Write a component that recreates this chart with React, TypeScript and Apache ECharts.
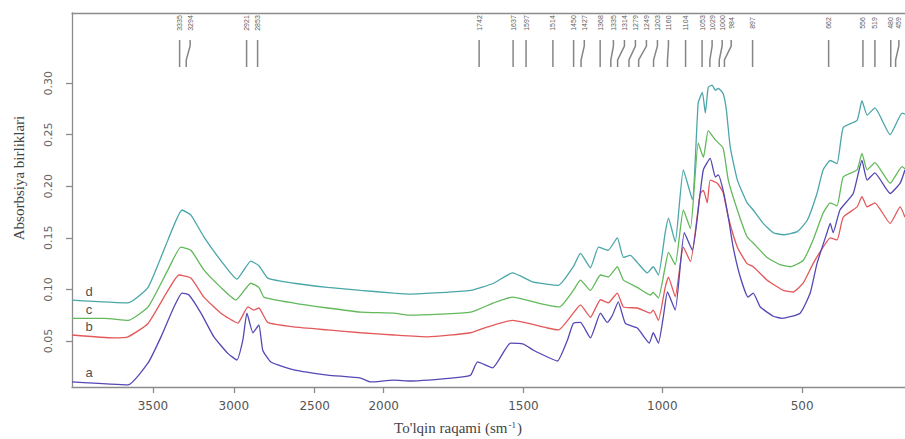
import React, { useEffect, useRef } from "react";
import * as echarts from "echarts";

// ---------- data (wavenumber cm^-1, absorbance) ----------
const curveA: [number, number][] = [
  [4000, 0.0103], [3654, 0.0074], [3530, 0.0287], [3450, 0.054], [3370, 0.083], [3320, 0.0965], [3277, 0.0946],
  [3203, 0.077], [3123, 0.054], [3037, 0.038], [2981, 0.0316], [2944, 0.051], [2919, 0.077], [2882, 0.058],
  [2845, 0.0655], [2821, 0.041], [2771, 0.0297], [2629, 0.022], [2420, 0.017], [2216, 0.014], [2154, 0.0103],
  [2012, 0.012], [1954, 0.0112], [1799, 0.015], [1768, 0.017], [1747, 0.0297], [1700, 0.024], [1645, 0.048],
  [1605, 0.047], [1574, 0.041], [1531, 0.0345], [1500, 0.0306], [1469, 0.051], [1451, 0.067], [1429, 0.068],
  [1398, 0.053], [1367, 0.077], [1346, 0.068], [1330, 0.075], [1312, 0.088], [1290, 0.067], [1253, 0.0626],
  [1216, 0.048], [1204, 0.058], [1188, 0.048], [1173, 0.073], [1160, 0.0975], [1136, 0.08], [1108, 0.155],
  [1083, 0.138], [1059, 0.193], [1049, 0.216], [1028, 0.227], [1012, 0.209], [1003, 0.211], [988, 0.196],
  [972, 0.17], [957, 0.141], [935, 0.112], [911, 0.0926], [895, 0.0965], [873, 0.083], [833, 0.074],
  [806, 0.072], [750, 0.077], [719, 0.0965], [698, 0.125], [667, 0.155], [657, 0.164], [648, 0.155],
  [627, 0.177], [586, 0.193], [559, 0.225], [543, 0.206], [519, 0.213], [472, 0.193], [441, 0.203], [426, 0.216],
];
const curveB: [number, number][] = [
  [4000, 0.0558], [3740, 0.053], [3654, 0.054], [3530, 0.067], [3407, 0.099], [3339, 0.114], [3265, 0.111],
  [3185, 0.0926], [3080, 0.077], [2975, 0.0674], [2913, 0.083], [2876, 0.08], [2845, 0.082], [2790, 0.068],
  [2629, 0.0636], [2420, 0.0607], [2216, 0.058], [2012, 0.0558], [1901, 0.054], [1768, 0.058], [1716, 0.0636],
  [1639, 0.07], [1593, 0.0674], [1531, 0.0626], [1497, 0.0607], [1451, 0.077], [1429, 0.085], [1398, 0.073],
  [1367, 0.09], [1343, 0.087], [1315, 0.0965], [1296, 0.083], [1253, 0.082], [1213, 0.077], [1204, 0.08],
  [1188, 0.07], [1167, 0.102], [1157, 0.112], [1136, 0.093], [1111, 0.141], [1089, 0.127], [1059, 0.193],
  [1049, 0.196], [1037, 0.184], [1028, 0.206], [1006, 0.203], [988, 0.194], [972, 0.17], [944, 0.141],
  [914, 0.125], [895, 0.122], [852, 0.109], [802, 0.099], [772, 0.0975], [741, 0.106], [710, 0.125],
  [679, 0.141], [657, 0.15], [636, 0.148], [617, 0.17], [574, 0.18], [559, 0.19], [543, 0.18], [519, 0.184],
  [472, 0.164], [441, 0.18], [426, 0.17],
];
const curveC: [number, number][] = [
  [4000, 0.072], [3802, 0.072], [3654, 0.07], [3530, 0.083], [3407, 0.119], [3327, 0.141], [3265, 0.138],
  [3185, 0.119], [3080, 0.102], [2987, 0.0897], [2895, 0.106], [2845, 0.102], [2814, 0.0926], [2629, 0.0868],
  [2420, 0.082], [2216, 0.078], [2012, 0.077], [1954, 0.075], [1768, 0.078], [1697, 0.087], [1639, 0.0926],
  [1562, 0.087], [1494, 0.083], [1451, 0.099], [1429, 0.109], [1398, 0.099], [1367, 0.114], [1343, 0.112],
  [1315, 0.122], [1296, 0.109], [1253, 0.102], [1213, 0.0946], [1204, 0.097], [1188, 0.0917], [1167, 0.122],
  [1157, 0.136], [1136, 0.124], [1111, 0.177], [1089, 0.159], [1065, 0.242], [1049, 0.228], [1034, 0.254],
  [1012, 0.245], [988, 0.237], [972, 0.206], [944, 0.177], [914, 0.151], [895, 0.145], [852, 0.131],
  [812, 0.124], [781, 0.122], [741, 0.128], [710, 0.148], [679, 0.174], [657, 0.184], [636, 0.181],
  [617, 0.209], [574, 0.216], [559, 0.232], [543, 0.216], [519, 0.223], [472, 0.203], [435, 0.219], [426, 0.217],
];
const curveD: [number, number][] = [
  [4000, 0.0897], [3654, 0.087], [3530, 0.102], [3407, 0.148], [3320, 0.177], [3265, 0.172], [3185, 0.151],
  [3080, 0.128], [2981, 0.11], [2895, 0.1275], [2845, 0.123], [2790, 0.111], [2629, 0.106], [2420, 0.102],
  [2216, 0.099], [2012, 0.0965], [1954, 0.0955], [1768, 0.099], [1697, 0.106], [1639, 0.116], [1574, 0.107],
  [1497, 0.104], [1451, 0.122], [1429, 0.135], [1398, 0.121], [1373, 0.141], [1343, 0.138], [1315, 0.15],
  [1296, 0.131], [1275, 0.133], [1253, 0.126], [1222, 0.116], [1204, 0.122], [1188, 0.114], [1167, 0.155],
  [1157, 0.169], [1136, 0.146], [1111, 0.216], [1083, 0.187], [1065, 0.281], [1052, 0.291], [1043, 0.271],
  [1034, 0.296], [1022, 0.298], [1012, 0.293], [1003, 0.295], [988, 0.29], [978, 0.274], [966, 0.238],
  [944, 0.206], [914, 0.184], [895, 0.177], [864, 0.164], [833, 0.155], [802, 0.153], [759, 0.156],
  [728, 0.167], [698, 0.193], [679, 0.216], [657, 0.225], [636, 0.222], [617, 0.257], [574, 0.264],
  [559, 0.283], [543, 0.269], [519, 0.276], [472, 0.25], [435, 0.271], [426, 0.27],
];

const curveNames = ["a", "b", "c", "d"];
const curveColors = ["#5448b4", "#e4585a", "#62b85a", "#4aa6a8"];

// peak annotations: printed label, peak position, position where the label is printed
const peakLabels = ["3335", "3294", "2921", "2853", "1742", "1637", "1597", "1514", "1450", "1427", "1368", "1335",
  "1314", "1279", "1249", "1203", "1160", "1104", "1053", "1029", "1000", "984", "897", "662", "556", "519", "480", "459"];
const peakAt = [3335, 3294, 2921, 2853, 1742, 1637, 1597, 1514, 1450, 1427, 1368, 1335,
  1314, 1279, 1249, 1203, 1160, 1104, 1053, 1029, 1000, 984, 897, 662, 556, 519, 470, 455];
const peakLabelAt = [3335, 3270, 2921, 2853, 1742, 1637, 1597, 1514, 1450, 1417, 1368, 1327,
  1293, 1259, 1225, 1191, 1157, 1104, 1053, 1022, 991, 963, 897, 662, 556, 519, 470, 445];

// printed x tick labels and the wavenumber where each printed tick sits
const xTickLabels = ["3500", "3000", "2500", "2000", "1500", "1000", "500"];
const xTickAt = [3500, 3000, 2500, 2074, 1605, 1176, 744];
const yTicks = [0.05, 0.1, 0.15, 0.2, 0.25, 0.3];

const xMinW = 426;
const xMaxW = 4000;
const yMin = 0.0054;
const yMax = 0.368;

// x scale: region above 2000 cm^-1 drawn at half scale
const compress = (w: number) => (w <= 2000 ? w : 2000 + (w - 2000) / 2);

export default function App() {
  const ref = useRef<HTMLDivElement>(null);
  useEffect(() => {
    if (!ref.current) return;
    const chart = echarts.init(ref.current, null, { renderer: "svg" });
    const curves = [curveA, curveB, curveC, curveD];
    const tickU = xTickAt.map(compress);
    const labelFor = (v: number) => {
      const i = tickU.findIndex((t) => Math.abs(t - v) < 0.5);
      return i >= 0 ? xTickLabels[i] : "";
    };
    const order = [3, 2, 1, 0];
    const lineSeries = order.map((k) => {
      const data = curves[k].map(([w, v]) => [compress(w), v]);
      return {
        type: "line",
        name: curveNames[k],
        data,
        showSymbol: false,
        symbol: "none",
        smooth: 0.15,
        lineStyle: { color: curveColors[k], width: 1.3 },
        itemStyle: { color: curveColors[k] },
        z: 3,
        markPoint: {
          symbol: "circle",
          symbolSize: 0,
          silent: true,
          data: [{ coord: data[0] }],
          label: {
            show: true,
            formatter: curveNames[k],
            position: "inside",
            offset: [17, -9],
            color: "#505050",
            fontSize: 13,
            fontFamily: "Liberation Sans",
          },
        },
      };
    });

    const annotation = {
      type: "custom",
      clip: false,
      silent: true,
      z: 2,
      encode: { x: 0, y: 2 },
      data: peakAt.map((p, i) => [compress(p), compress(peakLabelAt[i]), 0.2]),
      renderItem: (params: any, api: any) => {
        const i = params.dataIndex;
        const xp = api.coord([api.value(0), 0.2])[0];
        const xl = api.coord([api.value(1), 0.2])[0];
        const top = params.coordSys.y;
        return {
          type: "group",
          children: [
            {
              type: "polyline",
              shape: { points: [[xl, top + 27], [xl, top + 33], [xp, top + 47], [xp, top + 54]] },
              style: { stroke: "#858585", lineWidth: 1.5, fill: "none" },
            },
            {
              type: "text",
              x: xl,
              y: top + 10,
              rotation: Math.PI / 2,
              style: {
                text: peakLabels[i],
                fontSize: 7,
                fontFamily: "Liberation Sans",
                fill: "#5e5e5e",
                align: "center",
                verticalAlign: "middle",
              },
            },
          ],
        };
      },
    };

    chart.setOption({
      animation: false,
      backgroundColor: "#ffffff",
      grid: { left: 72, right: 0, top: 13, bottom: 52 },
      xAxis: [
        {
          type: "value",
          inverse: true,
          min: compress(xMinW),
          max: compress(xMaxW),
          axisLine: { show: true, onZero: false, lineStyle: { color: "#8c8c8c", width: 1.3 } },
          axisTick: { show: true, customValues: tickU, length: 6, lineStyle: { color: "#8c8c8c", width: 1.3 } },
          axisLabel: {
            customValues: tickU,
            formatter: (v: number) => labelFor(v),
            margin: 13,
            color: "#555555",
            fontSize: 12,
            fontFamily: "DejaVu Sans",
          },
          splitLine: { show: false },
        },
        {
          type: "value",
          position: "top",
          inverse: true,
          min: compress(xMinW),
          max: compress(xMaxW),
          axisLine: { show: true, onZero: false, lineStyle: { color: "#8c8c8c", width: 1.3 } },
          axisTick: { show: false },
          axisLabel: { show: false },
          splitLine: { show: false },
        },
      ],
      yAxis: {
        type: "value",
        min: yMin,
        max: yMax,
        axisLine: { show: true, onZero: false, lineStyle: { color: "#8c8c8c", width: 1.3 } },
        axisTick: { show: true, customValues: yTicks, length: 6, lineStyle: { color: "#8c8c8c", width: 1.3 } },
        axisLabel: {
          customValues: yTicks,
          formatter: (v: number) => v.toFixed(2),
          rotate: 90,
          margin: 18,
          color: "#666666",
          fontSize: 11,
          fontFamily: "DejaVu Sans",
        },
        splitLine: { show: false },
      },
      graphic: [
        {
          type: "text",
          x: 19,
          y: 178,
          rotation: Math.PI / 2,
          style: {
            text: "Absorbsiya birliklari",
            fontFamily: "Liberation Serif",
            fontSize: 15,
            fill: "#444444",
            align: "center",
            verticalAlign: "middle",
          },
        },
        {
          type: "text",
          x: 458,
          y: 428,
          style: {
            text: "To'lqin raqami (sm{sup|-1})",
            fontFamily: "Liberation Serif",
            fontSize: 15,
            fill: "#444444",
            align: "center",
            verticalAlign: "middle",
            rich: {
              sup: { fontSize: 9, fontFamily: "Liberation Serif", fill: "#444444", verticalAlign: "top", padding: [0, 1, 6, 1] },
            },
          },
        },
      ],
      series: [...lineSeries, annotation],
    });
    return () => chart.dispose();
  }, []);
  return (
    <div
      ref={ref}
      style={{ position: "fixed", left: 0, top: 0, width: 905, height: 439, background: "#fff" }}
    />
  );
}
